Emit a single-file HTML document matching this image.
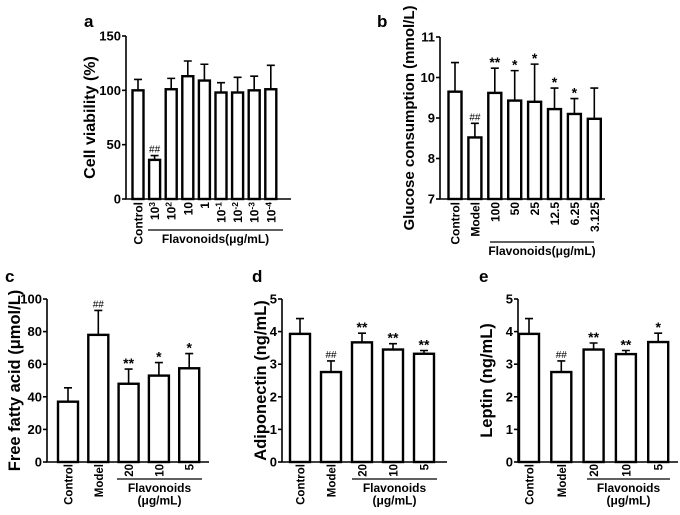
<!DOCTYPE html>
<html><head><meta charset="utf-8"><style>
html,body{margin:0;padding:0;background:#fff}
svg{display:block;font-family:"Liberation Sans",Arial,sans-serif;font-weight:bold}
</style></head><body>
<svg id="fig" width="680" height="515" viewBox="0 0 680 515" xmlns="http://www.w3.org/2000/svg"></svg>
<script>
// Panel a
const aCats=["Control","10^3","10^2","10","1","10^-1","10^-2","10^-3","10^-4"];
const aVals=[100,36,101,113,109,98,98,100,101];
const aErr=[110,40,111,127,124,107,112,113,123];
const aSig=["","##","","","","","","",""];
const aTicks=[0,50,100,150];
// Panel b
const bCats=["Control","Model","100","50","25","12.5","6.25","3.125"];
const bVals=[9.65,8.52,9.62,9.43,9.40,9.22,9.10,8.98];
const bErr=[10.37,8.87,10.23,10.17,10.33,9.74,9.48,9.74];
const bSig=["","##","**","*","*","*","*",""];
const bTicks=[7,8,9,10,11];
// Panel c
const cCats=["Control","Model","20","10","5"];
const cVals=[37,78,48,53,57.5];
const cErr=[45.5,93,57,61,66.5];
const cSig=["","##","**","*","*"];
const cTicks=[0,20,40,60,80,100];
// Panel d
const dCats=["Control","Model","20","10","5"];
const dVals=[3.93,2.76,3.67,3.45,3.32];
const dErr=[4.4,3.1,3.95,3.63,3.42];
const dSig=["","##","**","**","**"];
const dTicks=[0,1,2,3,4,5];
// Panel e
const eCats=["Control","Model","20","10","5"];
const eVals=[3.93,2.76,3.45,3.31,3.68];
const eErr=[4.4,3.1,3.65,3.42,3.95];
const eSig=["","##","**","**","*"];
const eTicks=[0,1,2,3,4,5];

const svg=document.getElementById('fig');
const NS="http://www.w3.org/2000/svg";
function mk(tag,attrs,parent){const e=document.createElementNS(NS,tag);for(const k in attrs)e.setAttribute(k,attrs[k]);(parent||svg).appendChild(e);return e;}

function panel(o){
  const g=mk('g',{});
  
  
  const ymin=o.ticks[0],ymax=o.ticks[o.ticks.length-1];
  const y=v=>o.y0-(v-ymin)/(ymax-ymin)*(o.y0-o.y1);
  const x=i=>o.x0+o.first+i*o.step;
  const L=mk('text',{x:o.lx,y:o.ly,'font-size':17},g);L.textContent=o.letter;
  
  
  const T=mk('text',{x:0,y:0,'font-size':o.tfs,'text-anchor':'middle',transform:`translate(${o.tx},${(o.y0+o.y1)/2}) rotate(-90)`},g);T.textContent=o.title;
  
  
  o.vals.forEach((v,i)=>{
    const cx=x(i);
    const eb=mk('path',{d:`M${cx} ${y(v)}V${y(o.err[i])}M${cx-4} ${y(o.err[i])}H${cx+4}`,stroke:'#000','stroke-width':1.6,fill:'none'},g);
    
    
    const r=mk('rect',{x:cx-o.bw/2,y:y(v),width:o.bw,height:o.y0-y(v),fill:'#fff',stroke:'#000','stroke-width':2.4},g);
    
    
    if(o.sig[i]){const s=mk('text',{x:cx,y:y(o.err[i])-(o.sig[i][0]=='#'?3:1),'font-size':o.sig[i][0]=='#'?10:14,'font-weight':o.sig[i][0]=='#'?'normal':'bold','text-anchor':'middle'},g);s.textContent=o.sig[i];
      
      }
    const c=o.cats[i];
    const t=mk('text',{x:0,y:0,'font-size':o.cfs,'text-anchor':'end',transform:`translate(${cx+4.5},${o.y0+o.co}) rotate(-90)`},g);
    if(c.includes('^')){const [b,e]=c.split('^');t.textContent=b;const ts=mk('tspan',{'font-size':8.5,dy:-4},t);ts.textContent=e;}
    else t.textContent=c;
    
    
  });
  const ax=mk('path',{d:`M${o.x0} ${o.y1}V${o.y0}H${o.xe}`,stroke:'#000','stroke-width':1.6,fill:'none'},g);
  
  
  o.ticks.forEach(t=>{
    mk('line',{x1:o.x0-4,x2:o.x0,y1:y(t),y2:y(t),stroke:'#000','stroke-width':1.6},g);
    const tl=mk('text',{x:o.x0-5,y:y(t)+4.5,'font-size':13,'text-anchor':'end'},g);tl.textContent=t;
    
    
  });
  const gl=mk('line',{x1:o.gx1,x2:o.gx2,y1:o.gy,y2:o.gy,stroke:'#000','stroke-width':1.2},g);
  
  
  o.glab.forEach((s,k)=>{const t=mk('text',{x:(o.gx1+o.gx2)/2,y:o.gy+13+k*12.5,'font-size':12,'text-anchor':'middle'},g);t.textContent=s;
    
    });
}
panel({id:'a',letter:'a',lx:84,ly:27,cats:aCats,vals:aVals,err:aErr,sig:aSig,ticks:aTicks,x0:126,xe:291,y0:199,y1:36,first:12,step:16.6,bw:11,title:'Cell viability (%)',tfs:16,tx:95,cfs:12,co:3,gx1:148,gx2:283,gy:230,glab:['Flavonoids(μg/mL)']});
panel({id:'b',letter:'b',lx:377,ly:27,cats:bCats,vals:bVals,err:bErr,sig:bSig,ticks:bTicks,x0:440,xe:605,y0:199,y1:37,first:15,step:19.9,bw:13,title:'Glucose consumption (mmol/L)',tfs:15,tx:414,cfs:12,co:3,gx1:490,gx2:594,gy:242,glab:['Flavonoids(μg/mL)']});
panel({id:'c',letter:'c',lx:5,ly:282,cats:cCats,vals:cVals,err:cErr,sig:cSig,ticks:cTicks,x0:47,xe:209,y0:462,y1:299,first:21,step:30.3,bw:20,title:'Free fatty acid (μmol/L)',tfs:16.5,tx:20,cfs:11.5,co:2,gx1:117,gx2:202,gy:479,glab:['Flavonoids','(μg/mL)']});
panel({id:'d',letter:'d',lx:252,ly:282,cats:dCats,vals:dVals,err:dErr,sig:dSig,ticks:dTicks,x0:282,xe:447,y0:462,y1:299,first:18,step:31,bw:20,title:'Adiponectin  (ng/mL)',tfs:16.5,tx:266,cfs:11.5,co:2,gx1:352,gx2:437,gy:479,glab:['Flavonoids','(μg/mL)']});
panel({id:'e',letter:'e',lx:479,ly:282,cats:eCats,vals:eVals,err:eErr,sig:eSig,ticks:eTicks,x0:518,xe:678,y0:462,y1:299,first:11,step:32.3,bw:20,title:'Leptin (ng/mL)',tfs:16.5,tx:492,cfs:11.5,co:2,gx1:587,gx2:670,gy:479,glab:['Flavonoids','(μg/mL)']});
</script>
</body></html>
